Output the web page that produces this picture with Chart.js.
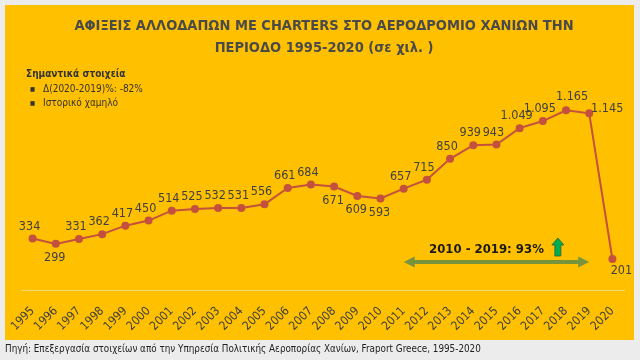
<!DOCTYPE html>
<html>
<head>
<meta charset="utf-8">
<script src="https://cdn.jsdelivr.net/npm/chart.js@4"></script>
<style>
  body { margin: 0; background: #ececec; width: 640px; height: 360px; overflow: hidden; position: relative;
         font-family: "Liberation Sans Narrow", "DejaVu Sans Condensed", sans-serif; color: #404040; }
  #panel { position: absolute; left: 5px; top: 5px; width: 629px; height: 335px; background: #FFC000; }
  #chart { position: absolute; left: 0; top: 0; }
  #title { position: absolute; left: 5px; width: 638px; top: 14px; text-align: center; font-size: 14.5px;
           font-weight: bold; line-height: 22px; color: #4a4a4a; }
  #notes { position: absolute; left: 26px; top: 67px; font-size: 10px; line-height: 14.5px; color: #333; }
  #notes b { font-size: 10px; }
  #notes .b { padding-left: 4px; }
  #notes .b span { display: inline-block; width: 13px; font-size: 6px; vertical-align: 1px; }
  #footer { position: absolute; left: 5px; top: 343px; font-size: 9.8px; color: #222; }
</style>
</head>
<body>
<div id="panel"></div>
<canvas id="chart" width="640" height="360"></canvas>
<div id="title">ΑΦΙΞΕΙΣ ΑΛΛΟΔΑΠΩΝ ΜΕ CHARTERS ΣΤΟ ΑΕΡΟΔΡΟΜΙΟ ΧΑΝΙΩΝ ΤΗΝ<br>ΠΕΡΙΟΔΟ 1995-2020 (σε χιλ. )</div>
<div id="notes">
  <b>Σημαντικά στοιχεία</b><br>
  <div class="b"><span>■</span>Δ(2020-2019)%: -82%</div>
  <div class="b"><span>■</span>Ιστορικό χαμηλό</div>
</div>
<div id="footer">Πηγή: Επεξεργασία στοιχείων από την Υπηρεσία Πολιτικής Αεροπορίας Χανίων, Fraport Greece, 1995-2020</div>
<script>
// years and arrivals (thousands)
const years = ["1995", "1996", "1997", "1998", "1999", "2000", "2001", "2002", "2003", "2004", "2005",
  "2006", "2007", "2008", "2009", "2010", "2011", "2012", "2013", "2014", "2015", "2016", "2017",
  "2018", "2019", "2020"];
const arrivals = [334, 299, 331, 362, 417, 450, 514, 525, 532, 531, 556, 661, 684, 671, 609, 593,
  657, 715, 850, 939, 943, 1049, 1095, 1165, 1145, 201];
// where each value label sits: a = above, b = below, r = right, ar = above right, br = below right
const labelSide = ["a", "b", "a", "a", "a", "a", "a", "a", "a", "a", "a", "a", "a", "b", "b", "b",
  "a", "a", "a", "a", "a", "a", "a", "ar", "r", "br"];
const growthFrom = "2011";
const growthTo = "2019";
const growthText = "2010 - 2019: 93%";

const lineColor = '#C4503E';
const fontFam = '"Liberation Sans Narrow", "DejaVu Sans Condensed", sans-serif';

function fmt(v) {
  return String(v).replace(/\B(?=(\d{3})+(?!\d))/g, '.');
}

const labelsPlugin = {
  id: 'valueLabels',
  afterDatasetsDraw(chart) {
    const ctx = chart.ctx;
    const pts = chart.getDatasetMeta(0).data;
    ctx.save();
    ctx.font = '12.5px ' + fontFam;
    ctx.fillStyle = '#404040';
    ctx.textAlign = 'center';
    ctx.textBaseline = 'middle';
    pts.forEach((p, i) => {
      let dx = -3, dy = -12;
      const s = labelSide[i];
      if (s === 'b') { dx = -1; dy = 14; }
      if (s === 'r') { dx = 18; dy = -5; }
      if (s === 'ar') { dx = 6; dy = -14; }
      if (s === 'br') { dx = 9; dy = 12; }
      ctx.fillText(fmt(arrivals[i]), p.x + dx, p.y + dy);
    });
    ctx.restore();
  }
};

const growthPlugin = {
  id: 'growthArrow',
  afterDraw(chart) {
    const ctx = chart.ctx;
    const xs = chart.scales.x;
    const x1 = xs.getPixelForValue(years.indexOf(growthFrom));
    const x2 = xs.getPixelForValue(years.indexOf(growthTo));
    const y = chart.chartArea.bottom - 28;
    ctx.save();
    // double arrow
    ctx.strokeStyle = '#77933C';
    ctx.fillStyle = '#77933C';
    ctx.lineWidth = 4;
    ctx.beginPath();
    ctx.moveTo(x1 + 8, y);
    ctx.lineTo(x2 - 8, y);
    ctx.stroke();
    [[x1, 1], [x2, -1]].forEach(([x, d]) => {
      ctx.beginPath();
      ctx.moveTo(x, y);
      ctx.lineTo(x + d * 11, y - 5.5);
      ctx.lineTo(x + d * 11, y + 5.5);
      ctx.closePath();
      ctx.fill();
    });
    // text + green up arrow
    ctx.font = 'bold 13px ' + fontFam;
    const tw = ctx.measureText(growthText).width;
    const total = tw + 8 + 12;
    const left = (x1 + x2) / 2 - total / 2;
    ctx.fillStyle = '#1a1a1a';
    ctx.textAlign = 'left';
    ctx.textBaseline = 'middle';
    ctx.fillText(growthText, left, y - 12);
    const ax = left + tw + 8 + 6;
    const top = y - 24, bot = y - 6;
    ctx.beginPath();
    ctx.moveTo(ax, top);
    ctx.lineTo(ax + 6, top + 7);
    ctx.lineTo(ax + 3, top + 7);
    ctx.lineTo(ax + 3, bot);
    ctx.lineTo(ax - 3, bot);
    ctx.lineTo(ax - 3, top + 7);
    ctx.lineTo(ax - 6, top + 7);
    ctx.closePath();
    ctx.fillStyle = '#00B050';
    ctx.fill();
    ctx.lineWidth = 0.8;
    ctx.strokeStyle = '#2f5f35';
    ctx.stroke();
    ctx.restore();
  }
};

const chart = new Chart(document.getElementById('chart'), {
  type: 'line',
  data: {
    labels: years,
    datasets: [{
      data: arrivals,
      borderColor: lineColor,
      backgroundColor: lineColor,
      pointBackgroundColor: lineColor,
      pointBorderColor: lineColor,
      borderWidth: 2,
      pointRadius: 3,
      tension: 0
    }]
  },
  options: {
    responsive: false,
    devicePixelRatio: 1,
    animation: false,
    layout: { padding: { left: 21, right: 16, top: 74, bottom: 0 } },
    scales: {
      y: { display: false, min: 0, max: 1400 },
      x: {
        offset: true,
        grid: { display: false },
        border: { color: '#f7d77a', width: 1 },
        ticks: {
          autoSkip: false,
          minRotation: 45,
          maxRotation: 45,
          padding: 6,
          color: '#404040',
          font: { family: fontFam, size: 12 }
        },
        afterFit(s) { s.height = 70; }
      }
    },
    plugins: {
      legend: { display: false },
      tooltip: { enabled: false }
    }
  },
  plugins: [labelsPlugin, growthPlugin]
});
</script>
</body>
</html>
